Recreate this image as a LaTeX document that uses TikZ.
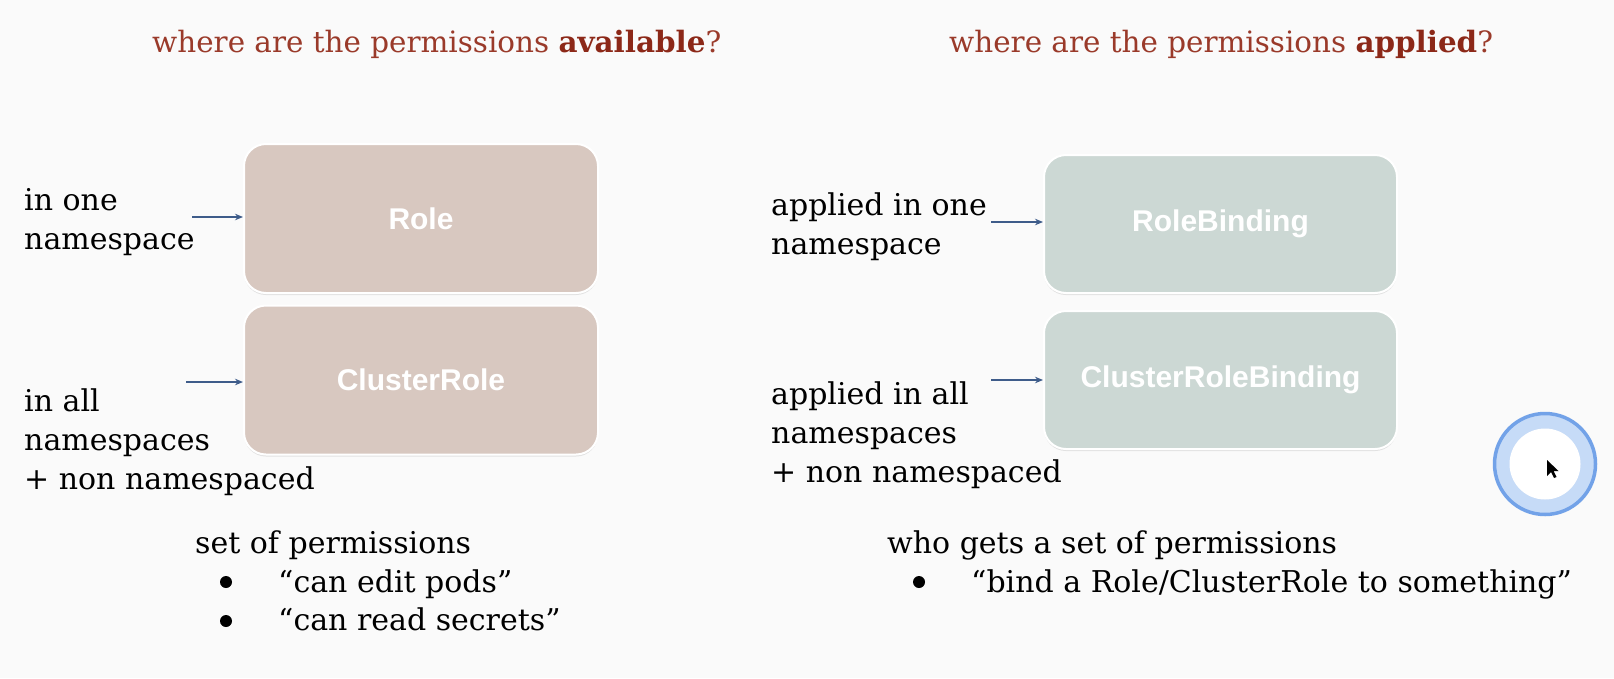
\documentclass[tikz,border=0pt]{standalone}
\usepackage{fontspec}
\setmainfont{DejaVu Serif}
\newfontfamily\boxfont{Liberation Sans}
\usetikzlibrary{positioning,arrows.meta,shadows}
\definecolor{pagebg}{HTML}{FAFAFA}
\definecolor{titlered}{HTML}{9A3A2A}
\definecolor{titlebold}{HTML}{8C2818}
\definecolor{rolefill}{HTML}{D8C8C0}
\definecolor{bindfill}{HTML}{CCD8D4}
\definecolor{arrowblue}{HTML}{3E5C8A}
\definecolor{ringblue}{HTML}{72A2E8}
\definecolor{ringfill}{HTML}{C6DBF7}

\begin{document}
\begin{tikzpicture}[x=1pt,y=-1pt,
  kind/.style={rounded corners=22pt,draw=white,line width=2pt,
    text=white,font=\boxfont\bfseries\fontsize{30}{34}\selectfont,
    drop shadow={shadow xshift=0pt,shadow yshift=-2pt,opacity=.2}},
  rolebox/.style={kind,fill=rolefill,minimum width=354pt,minimum height=149pt},
  bindbox/.style={kind,fill=bindfill,minimum width=353pt,minimum height=138pt},
  body/.style={anchor=base west,inner sep=0pt,align=left,
    font=\fontsize{30}{39}\selectfont},
  headline/.style={anchor=base west,inner sep=0pt,text=titlered,
    font=\fontsize{29.4}{34}\selectfont},
  bull/.style={circle,fill=black,inner sep=0pt,minimum size=12pt},
  pointer/.style={-{Stealth[length=8pt,width=6.5pt]},arrowblue,line width=1.4pt}]
  %% page
  %% ------------------------------------
  \fill[pagebg] (0,0) rectangle (1614,678);

  %% headings
  %% ------------------------------------
  \node[headline] (hleft)  at (152,52.5) {where are the permissions \textbf{\color{titlebold}available}?};
  \node[headline] (hright) at (949,52.5) {where are the permissions \textbf{\color{titlebold}applied}?};

  %% Role / ClusterRole (base = last line)
  %% ------------------------------------
  \node[rolebox] (role)    at (421,218.5) {Role};
  \node[rolebox] (crole)   at (421,380)   {ClusterRole};
  \node[body] (lone) at (24,249) {in one\\namespace};
  \node[body] (lall) at (24,489) {in all\\namespaces\\+ non namespaced};
  \coordinate (aone) at (192,217);
  \coordinate (aall) at (186,382);
  \draw[pointer] (aone) -- (aone -| role.west);
  \draw[pointer] (aall) -- (aall -| crole.west);

  %% RoleBinding / ClusterRoleBinding
  %% ------------------------------------
  \node[bindbox] (rbind)   at (1220.5,224) {RoleBinding};
  \node[bindbox] (crbind)  at (1220.5,380) {ClusterRoleBinding};
  \node[body] (rone) at (771,254) {applied in one\\namespace};
  \node[body] (rall) at (771,482) {applied in all\\namespaces\\+ non namespaced};
  \coordinate (bone) at (991,222);
  \coordinate (ball) at (991,380);
  \draw[pointer] (bone) -- (bone -| rbind.west);
  \draw[pointer] (ball) -- (ball -| crbind.west);

  %% notes below
  %% ------------------------------------
  \node[body] (lnote) at (195,553) {set of permissions};
  \node[bull] (lb1) at (226,582) {};
  \node[bull] (lb2) at (226,621) {};
  \node[body] (lt1) at (278,592) {“can edit pods”};
  \node[body] (lt2) at (278,630) {“can read secrets”};
  \node[body] (rnote) at (887,553) {who gets a set of permissions};
  \node[bull] (rb1) at (919,582) {};
  \node[body] (rt1) at (971,592) {“bind a Role/ClusterRole to something”};

  %% click marker
  %% ------------------------------------
  \fill[ringfill] (1545,464) circle (50);
  \draw[ringblue,line width=3.5pt] (1545,464) circle (50.5);
  \fill[white] (1545,464) circle (35.5);
  \fill[black] (1547,460) -- (1547,476) -- (1551,472) -- (1554,478)
    -- (1556.5,477) -- (1553.5,471) -- (1558.5,471) -- cycle;
\end{tikzpicture}
\end{document}
